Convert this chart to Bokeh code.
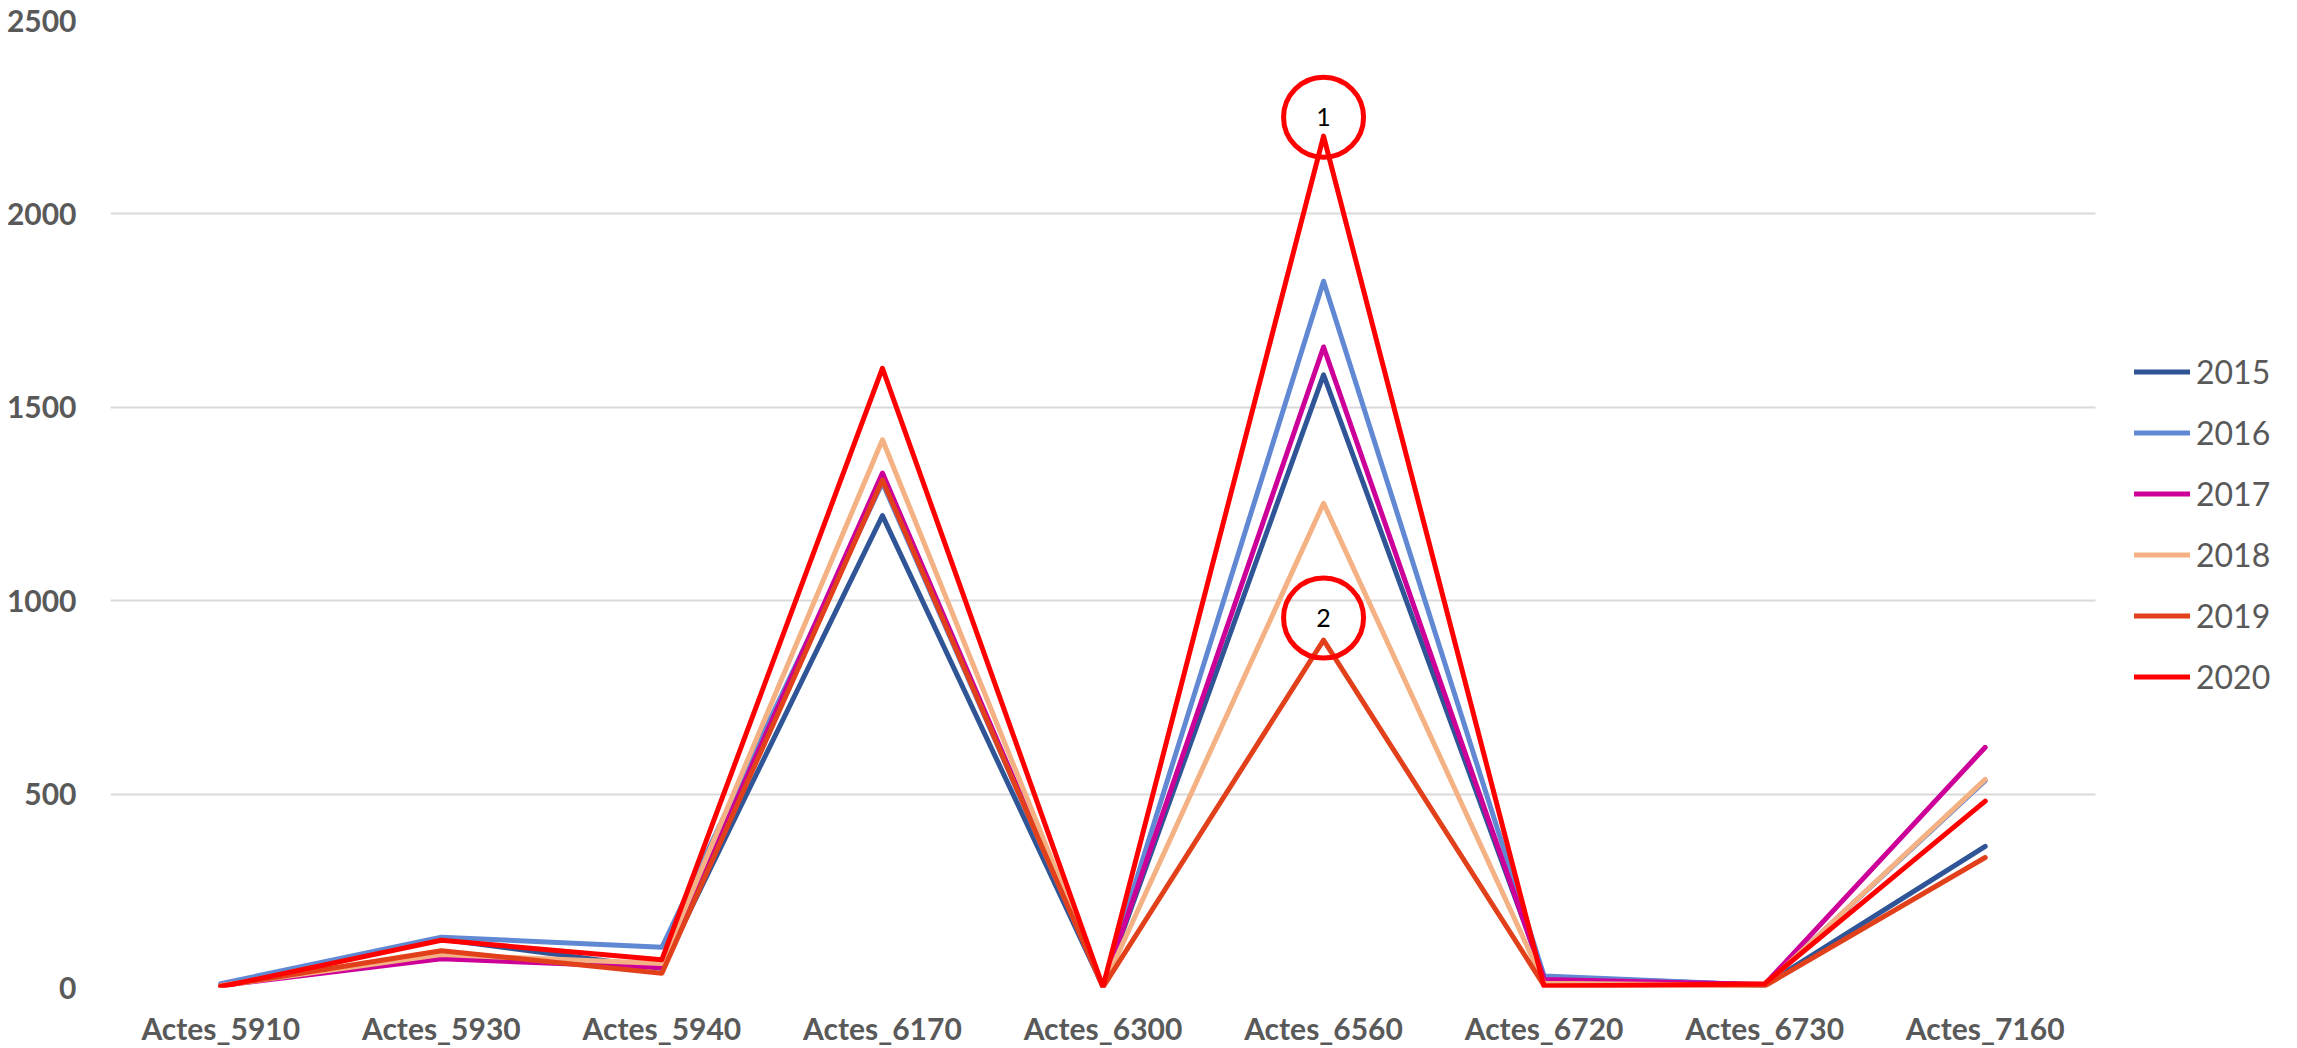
from bokeh.plotting import figure
from bokeh.models import Range1d, Legend, LegendItem, SingleIntervalTicker, FixedTicker, ColumnDataSource
from bokeh.embed import file_html
from bokeh.resources import INLINE
from bokeh.core.properties import value

categories = ["Actes_5910", "Actes_5930", "Actes_5940", "Actes_6170", "Actes_6300",
              "Actes_6560", "Actes_6720", "Actes_6730", "Actes_7160"]
years = ["2015", "2016", "2017", "2018", "2019", "2020"]
v2015 = [8, 125, 50, 1220, 3, 1584, 27, 6, 365]
v2016 = [10, 130, 104, 1305, 3, 1826, 30, 6, 535]
v2017 = [5, 74, 52, 1330, 2, 1656, 21, 8, 621]
v2018 = [5, 85, 62, 1416, 2, 1252, 11, 5, 538]
v2019 = [4, 95, 37, 1312, 1, 898, 5, 4, 336]
v2020 = [2, 122, 72, 1601, 2, 2201, 3, 10, 482]
series = [v2015, v2016, v2017, v2018, v2019, v2020]
colors = ["#2F5597", "#6189D3", "#CC0099", "#F4B183", "#E2401A", "#FF0000"]
y_ticks = [0, 500, 1000, 1500, 2000, 2500]

annot_labels = ["1", "2"]
annot_cats = ["Actes_6560", "Actes_6560"]
annot_values = [2250, 955]

FONT = "Lato"
GREY = "#595959"

W, H = 2290, 1048
LEFT, TOP, BOTTOM = 110, 20, 60
PLOT_RIGHT = 2095          # where the category area ends (legend lives to the right)
n = len(categories)
xs = list(range(n))
unit = (PLOT_RIGHT - LEFT) / n
x_end = -0.5 + (W - LEFT) / unit

p = figure(width=W, height=H, x_range=Range1d(-0.5, x_end),
           y_range=Range1d(0, 2500), output_backend="svg", toolbar_location=None,
           min_border_left=LEFT, min_border_right=0, min_border_top=TOP, min_border_bottom=BOTTOM)
p.outline_line_color = None
p.background_fill_color = "white"

p.xaxis.ticker = FixedTicker(ticks=xs)
p.xaxis.major_label_overrides = {i: c for i, c in zip(xs, categories)}
p.xaxis.axis_line_color = None
p.xaxis.major_tick_line_color = None
p.xaxis.minor_tick_line_color = None
p.xaxis.major_label_text_font = FONT
p.xaxis.major_label_text_font_style = "bold"
p.xaxis.major_label_text_font_size = "30px"
p.xaxis.major_label_text_color = GREY
p.xaxis.major_label_standoff = 22
p.xaxis.major_tick_out = 0

p.yaxis.axis_line_color = None
p.yaxis.major_tick_line_color = None
p.yaxis.minor_tick_line_color = None
p.yaxis.major_label_text_font = FONT
p.yaxis.major_label_text_font_style = "bold"
p.yaxis.major_label_text_font_size = "30px"
p.yaxis.major_label_text_color = GREY
p.yaxis.major_label_standoff = 34
p.yaxis.major_tick_out = 0
p.yaxis.ticker = FixedTicker(ticks=y_ticks)

p.xgrid.grid_line_color = None
grid = p.ygrid[0]
if "cross_bounds" in grid.properties():
    grid.grid_line_color = "#D9D9D9"
    grid.grid_line_width = 2
    grid.cross_bounds = (-0.5, n - 0.5)
else:
    grid.grid_line_color = None
    p.segment(x0=[-0.5] * len(y_ticks), x1=[n - 0.5] * len(y_ticks), y0=y_ticks, y1=y_ticks,
              line_color="#D9D9D9", line_width=2)

items = []
for yr, vals, col in zip(years, series, colors):
    r = p.line(xs, vals, line_color=col, line_width=5,
               line_join="round", line_cap="round")
    items.append(LegendItem(label=yr, renderers=[r]))

src = ColumnDataSource(dict(x=[categories.index(c) for c in annot_cats], y=annot_values, t=annot_labels))
p.scatter("x", "y", source=src, marker="circle", size=80, fill_alpha=0,
          line_color="#FF0000", line_width=5)
p.text("x", "y", text="t", source=src, text_align="center", text_baseline="middle",
       text_font=value(FONT), text_font_size="25px", text_color="black")

legend = Legend(items=items, location=(2134 - LEFT, 280), orientation="vertical",
                glyph_width=56, glyph_height=61, label_height=61, spacing=0,
                label_standoff=6, padding=0, margin=0,
                label_text_font=FONT, label_text_font_size="32px", label_text_color=GREY,
                border_line_color=None, background_fill_alpha=0)
p.add_layout(legend)

open("out.html", "w").write(file_html(p, INLINE))
